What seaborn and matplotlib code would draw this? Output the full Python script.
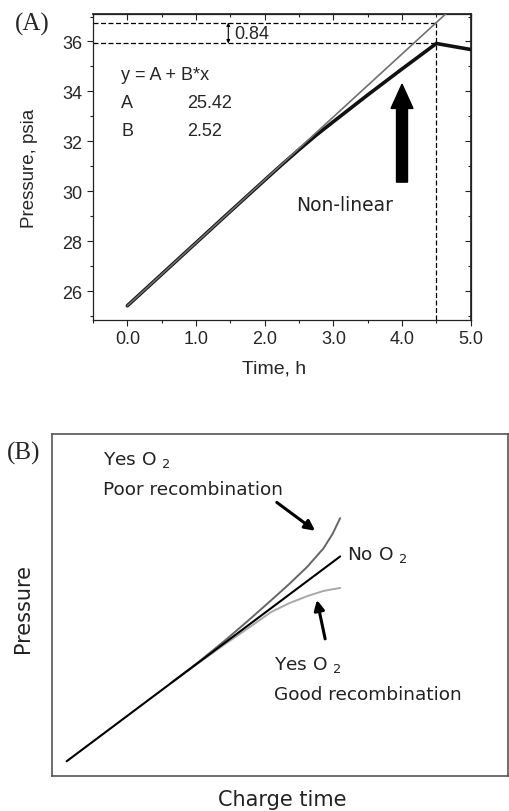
import matplotlib
matplotlib.use("Agg")
import matplotlib.pyplot as plt
import seaborn as sns
from matplotlib.ticker import MultipleLocator, FormatStrFormatter, NullLocator

# ---------------- Panel A: measured pressure during charge ----------------
time_h = [0.0, 0.5, 1.0, 1.5, 2.0, 2.25, 2.5, 2.75, 3.0, 3.5, 4.0, 4.5, 4.75, 5.0]
pressure_psia = [25.42, 26.68, 27.94, 29.20, 30.45, 31.07, 31.67, 32.25,
                 32.79, 33.86, 34.90, 35.92, 35.80, 35.68]

fit_a = 25.42          # intercept of the linear fit
fit_b = 2.52           # slope of the linear fit
fit_time = [0.0, 4.75]
peak_time = 4.5
gap_label = "0.84"

# ---------------- Panel B: schematic pressure vs. charge time ----------------
no_o2_x = [0.32, 6.32]
no_o2_y = [0.43, 6.42]
poor_x = [2.6, 3.2, 3.8, 4.3, 4.8, 5.2, 5.6, 5.95, 6.15, 6.32]
poor_y = [2.71, 3.32, 3.97, 4.54, 5.13, 5.61, 6.12, 6.65, 7.07, 7.54]
good_x = [2.6, 3.2, 3.8, 4.3, 4.8, 5.2, 5.6, 5.95, 6.32]
good_y = [2.71, 3.29, 3.86, 4.32, 4.79, 5.05, 5.26, 5.41, 5.50]

sns.set_theme(style="ticks")
plt.rcParams["font.family"] = ["Liberation Sans", "DejaVu Sans"]
plt.rcParams["mathtext.fontset"] = "dejavusans"
plt.rcParams["axes.edgecolor"] = "#222222"

fig = plt.figure(figsize=(5.1, 8.12), dpi=100)
axA = fig.add_axes([0.1824, 0.6047, 0.7405, 0.3768])
axB = fig.add_axes([0.102, 0.0431, 0.894, 0.4212])

# ---- Panel A ----
fit_p = [fit_a + fit_b * t for t in fit_time]
sns.lineplot(x=time_h, y=pressure_psia, ax=axA, color="#111111", lw=2.6,
             sort=False, zorder=3)
sns.lineplot(x=fit_time, y=fit_p, ax=axA, color="#707070", lw=1.2,
             sort=False, zorder=4)

axA.set_xlim(-0.5, 5.0)
axA.set_ylim(24.85, 37.1)

peak_p = pressure_psia[time_h.index(peak_time)]
line_p = fit_a + fit_b * peak_time
dash = (0, (4, 2))
axA.hlines([line_p, peak_p], -0.5, peak_time, colors="black",
           linestyles=[dash, dash], lw=0.9, zorder=2)
axA.vlines(peak_time, 24.85, line_p, colors="black", linestyles=[dash],
           lw=0.9, zorder=2)

axA.annotate("", xy=(1.47, line_p), xytext=(1.47, peak_p),
             arrowprops=dict(arrowstyle="<|-|>", lw=0.8, color="black",
                             mutation_scale=5, shrinkA=0, shrinkB=0))
axA.text(1.56, (line_p + peak_p) / 2 - 0.02, gap_label, fontsize=13,
         va="center", ha="left")

axA.text(-0.09, 34.69, "y = A + B*x", fontsize=13, va="center")
axA.text(-0.09, 33.56, "A", fontsize=13, va="center")
axA.text(0.87, 33.56, f"{fit_a:.2f}", fontsize=13, va="center")
axA.text(-0.09, 32.42, "B", fontsize=13, va="center")
axA.text(0.87, 32.42, f"{fit_b:.2f}", fontsize=13, va="center")

axA.text(3.17, 29.49, "Non-linear", fontsize=13.5, family="DejaVu Sans",
         ha="center", va="center", color="#222222")
axA.arrow(4.0, 30.37, 0, 3.92, width=0.16, head_width=0.32,
          head_length=0.97, length_includes_head=True, color="black",
          zorder=5)

axA.xaxis.set_major_locator(MultipleLocator(1.0))
axA.xaxis.set_minor_locator(MultipleLocator(0.5))
axA.xaxis.set_major_formatter(FormatStrFormatter("%.1f"))
axA.yaxis.set_major_locator(MultipleLocator(2))
axA.yaxis.set_minor_locator(MultipleLocator(1))
axA.tick_params(which="both", direction="out", top=False, right=False,
                width=0.8, color="#222222", labelsize=13, pad=3)
axA.tick_params(which="major", length=4.5)
axA.tick_params(which="minor", length=2.5)

top = axA.secondary_xaxis("top")
top.xaxis.set_major_locator(MultipleLocator(1.0))
top.xaxis.set_minor_locator(MultipleLocator(0.5))
top.tick_params(which="both", direction="in", labeltop=False, width=0.8,
                color="#222222")
top.tick_params(which="major", length=4.5)
top.tick_params(which="minor", length=2.5)
right = axA.secondary_yaxis("right")
right.yaxis.set_major_locator(MultipleLocator(2))
right.yaxis.set_minor_locator(MultipleLocator(1))
right.tick_params(which="both", direction="in", labelright=False, width=0.8,
                  color="#222222")
right.tick_params(which="major", length=4.5)
right.tick_params(which="minor", length=2.5)

for sp in axA.spines.values():
    sp.set_linewidth(0.9)

axA.set_xlabel("Time, h", fontsize=14, va="center")
axA.set_ylabel("Pressure, psia", fontsize=13.5, va="center")
axA.xaxis.set_label_coords(0.48, -0.158)
axA.yaxis.set_label_coords(-0.167, 0.5)

fig.text(32 / 510, 1 - 24 / 812, "(A)", family="Liberation Serif",
         fontsize=18, ha="center", va="center")

# ---- Panel B ----
sns.lineplot(x=no_o2_x, y=no_o2_y, ax=axB, color="black", lw=1.5, sort=False,
             zorder=4)
sns.lineplot(x=poor_x, y=poor_y, ax=axB, color="#666666", lw=1.4, sort=False,
             zorder=3)
sns.lineplot(x=good_x, y=good_y, ax=axB, color="#a8a8a8", lw=1.4, sort=False,
             zorder=3)
axB.set_xlim(0, 10)
axB.set_ylim(0, 10)
axB.xaxis.set_major_locator(NullLocator())
axB.yaxis.set_major_locator(NullLocator())
for sp in axB.spines.values():
    sp.set_color("#555555")
    sp.set_linewidth(1.2)

fB = dict(family="DejaVu Sans", fontsize=13.3, color="#222222", va="center")
axB.text(1.125, 9.27, "Yes O $_2$", **fB)
axB.text(1.125, 8.39, "Poor recombination", **fB)
axB.text(6.48, 6.49, "No O $_2$", **fB)
axB.text(4.87, 3.27, "Yes O $_2$", **fB)
axB.text(4.87, 2.40, "Good recombination", **fB)

arrow_kw = dict(arrowstyle="-|>", lw=2.2, color="black", mutation_scale=15,
                shrinkA=0, shrinkB=0)
axB.annotate("", xy=(5.77, 7.17), xytext=(4.93, 8.00), arrowprops=arrow_kw)
axB.annotate("", xy=(5.81, 5.15), xytext=(5.99, 4.01), arrowprops=arrow_kw)

axB.set_xlabel("Charge time", family="DejaVu Sans", fontsize=15,
               color="#222222", va="center")
axB.set_ylabel("Pressure", family="DejaVu Sans", fontsize=15,
               color="#222222", va="center")
axB.xaxis.set_label_coords(0.504, -0.067)
axB.yaxis.set_label_coords(-0.064, 0.494)

fig.text(24 / 510, 1 - 453 / 812, "(B)", family="Liberation Serif",
         fontsize=18, ha="center", va="center")

fig.savefig("out.png", dpi=100)
